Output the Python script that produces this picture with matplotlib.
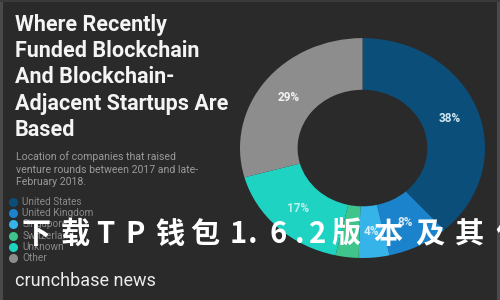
import numpy as np
import matplotlib.pyplot as plt
from matplotlib.patches import Rectangle
from matplotlib.lines import Line2D

# data
countries = ['United States', 'United Kingdom', 'Singapore', 'Switzerland', 'Unknown', 'Other']
shares = [38, 8, 4, 3, 17, 29]
labels = ['38%', '8%', '4%', '', '17%', '29%']
colors = ['#0b4e7a', '#1b82cc', '#36b4ea', '#3fc48b', '#1fd3c3', '#8d8d8d']
label_colors = ['#cfe6f3', '#d8ecf8', '#d8eef8', '#ffffff', '#b8f2ea', '#f2f2f2']

title = 'Where Recently\nFunded Blockchain\nAnd Blockchain-\nAdjacent Startups Are\nBased'
subtitle = 'Location of companies that raised\nventure rounds between 2017 and late-\nFebruary 2018.'
overlay = '下载TP钱包1.6.2版本及其优'
# approximate horizontal centres (px) of each overlay glyph, wide brush spacing
overlay_x = [36, 75, 105, 135, 170, 205, 238, 253, 278, 300, 318, 346, 388, 430, 469, 510]

bg = '#2a2a2a'
W, H = 500, 300
fig = plt.figure(figsize=(5, 3), dpi=100)
fig.patch.set_facecolor(bg)

# frame strips
fig.add_artist(Rectangle((0, 0), 0.006, 1, transform=fig.transFigure, color='#4a4a4a', lw=0))
fig.add_artist(Rectangle((0.993, 0), 0.007, 1, transform=fig.transFigure, color='#4a4a4a', lw=0))
fig.add_artist(Rectangle((0, 0.993), 1, 0.007, transform=fig.transFigure, color='#3a3a3a', lw=0))

# donut
ax = fig.add_axes([0.48, 0.14, 0.49, 0.733])
ax.set_facecolor(bg)
wedges, _ = ax.pie(shares, colors=colors, startangle=90, counterclock=False,
                   radius=1, wedgeprops=dict(width=0.47, linewidth=0))
ax.set_aspect('auto')
ax.set_xlim(-1, 1)
ax.set_ylim(-1, 1)
ax.axis('off')

total = sum(shares)
start = 90.0
for s, lab, c in zip(shares, labels, label_colors):
    ang = start - s / total * 360 / 2
    start -= s / total * 360
    r = 0.76
    ax.text(r * np.cos(np.radians(ang)), r * np.sin(np.radians(ang)), lab,
            ha='center', va='center', color=c, fontsize=8.5, fontweight='bold',
            family='Roboto')

# title block
fig.text(0.03, 0.955, title, ha='left', va='top', color='#f4f4f4', fontsize=15.5,
         fontweight='bold', family='Roboto', linespacing=1.26)
fig.text(0.032, 0.495, subtitle, ha='left', va='top', color='#9a9a9a', fontsize=7.6,
         family='Roboto', linespacing=1.3)

# legend
for i, (name, c) in enumerate(zip(countries, colors)):
    y = 1 - (202 + i * 11.2) / H
    fig.add_artist(Line2D([0.025], [y], transform=fig.transFigure, marker='o',
                          markersize=6.5, color=c, markeredgewidth=0, linestyle=''))
    fig.text(0.045, y, name, ha='left', va='center', color='#8a8a8a', fontsize=7.2,
             family='Roboto')

fig.text(0.03, 1 - 281 / H, 'crunchbase news', ha='left', va='center',
         color='#ececec', fontsize=13, family='Roboto')

# watermark overlay, glyph by glyph
for ch, px in zip(overlay, overlay_x):
    fig.text(px / W, 1 - 234 / H, ch, ha='center', va='center', color='white',
             fontsize=21, fontweight='bold',
             family=['Noto Sans CJK SC', 'DejaVu Sans'])

fig.savefig('out.png', dpi=100, facecolor=bg)
